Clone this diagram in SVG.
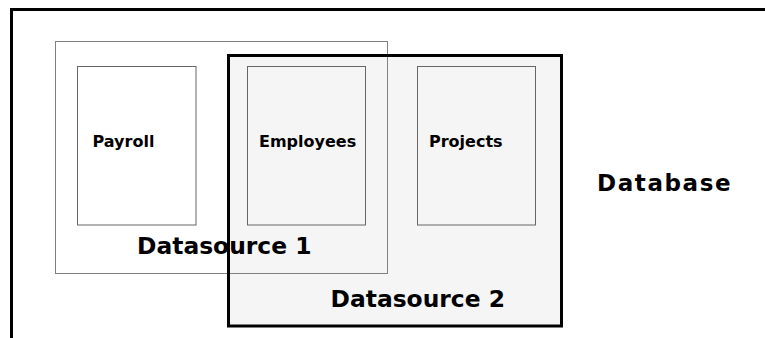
<svg xmlns="http://www.w3.org/2000/svg" width="765" height="338" viewBox="0 0 765 338">
<style>
  .lbl { font-family: "DejaVu Sans", Verdana, sans-serif; font-weight: bold; fill: #000; }
  .small { font-size: 16px; }
  .big { font-size: 23.4px; }
  .db { font-size: 23px; letter-spacing: 1.6px; }
  .table { fill: none; stroke: #666; stroke-width: 1; }
</style>
<rect width="765" height="338" fill="#fff"/>
<g id="database">
  <rect x="11.5" y="9.5" width="800" height="400" fill="#fff" stroke="#000" stroke-width="3"/>
  <text class="lbl db" x="597" y="191">Database</text>
</g>
<g id="datasource2-bg">
  <rect x="228.5" y="55.5" width="333" height="270.5" fill="#f5f5f5"/>
</g>
<g id="datasource1">
  <rect x="55.5" y="41.5" width="332" height="232" fill="none" stroke="#808080" stroke-width="1"/>
  <text class="lbl big" x="137" y="254">Datasource 1</text>
</g>
<g id="payroll">
  <rect class="table" x="77.5" y="66.5" width="118.5" height="158.5"/>
  <text class="lbl small" x="92.5" y="146.5">Payroll</text>
</g>
<g id="employees">
  <rect class="table" x="247.5" y="66.5" width="118" height="158.5"/>
  <text class="lbl small" x="259" y="146.5">Employees</text>
</g>
<g id="projects">
  <rect class="table" x="417.5" y="66.5" width="118" height="158.5"/>
  <text class="lbl small" x="429" y="146.5">Projects</text>
</g>
<g id="datasource2">
  <rect x="228.5" y="55.5" width="333" height="270.5" fill="none" stroke="#000" stroke-width="3"/>
  <text class="lbl big" x="330.5" y="306.5">Datasource 2</text>
</g>
<g id="connectors"/>
</svg>
